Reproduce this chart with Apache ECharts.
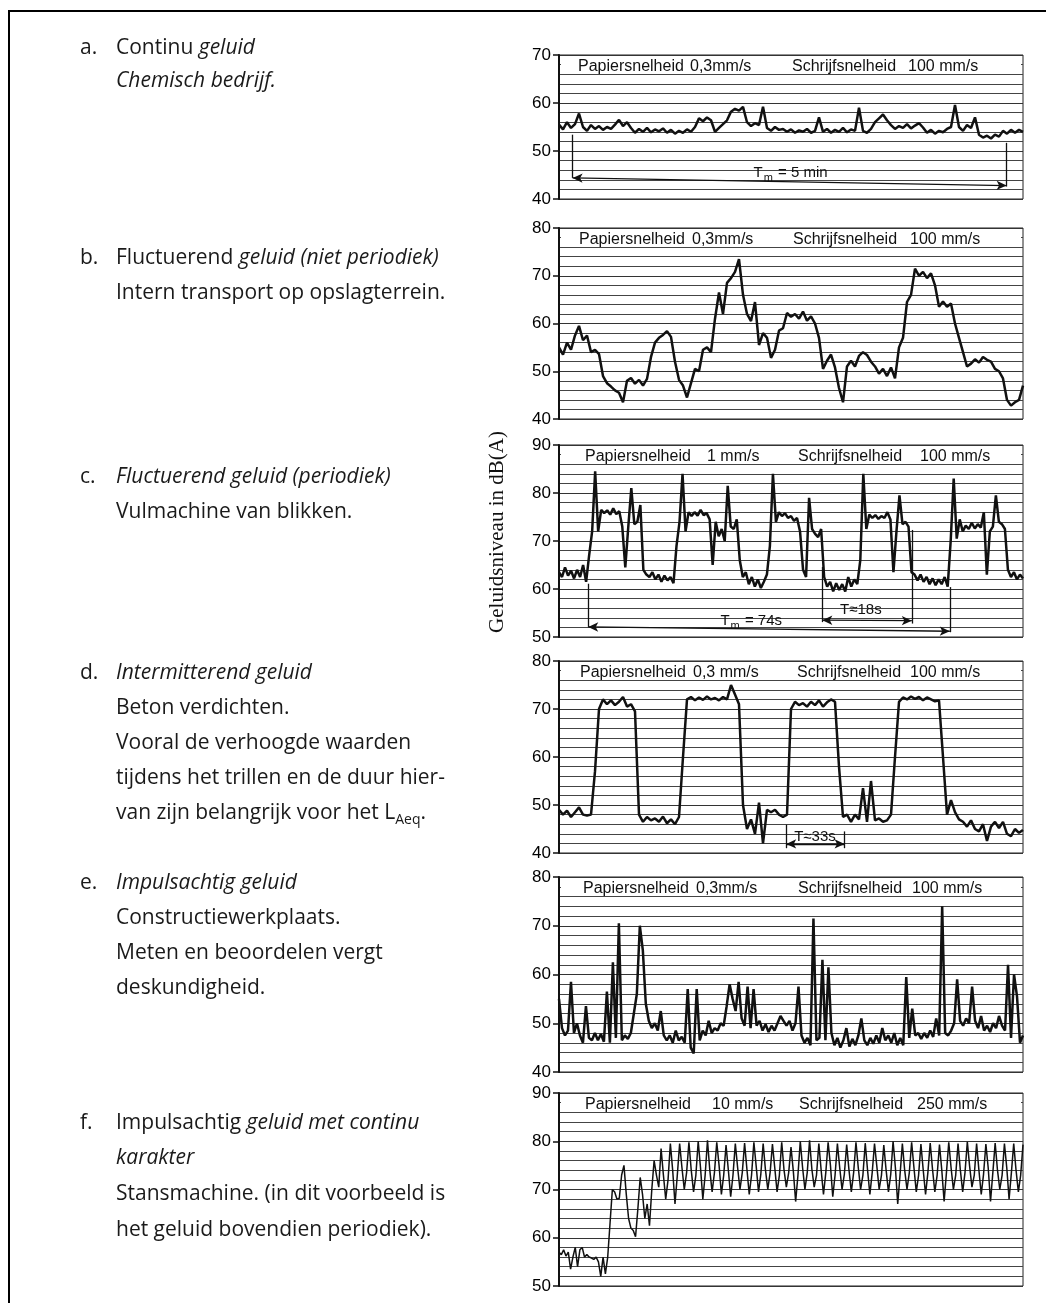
<!DOCTYPE html>
<html>
<head>
<meta charset="utf-8">
<title>Geluidsniveau in dB(A)</title>
<script src="https://cdn.jsdelivr.net/npm/echarts@6/dist/echarts.min.js"></script>
<style>
html, body { margin: 0; padding: 0; background: #fff; }
#main { width: 1046px; height: 1303px; }
</style>
</head>
<body>
<div id="main"></div>
<script>
// registreerstroken, waarden in dB(A), gelijke tijdstappen
var levelA = [55.5, 54.5, 56, 54.8, 55.6, 57.8, 55, 54.2, 55.4, 54.6, 55.2, 54.4, 55, 54.6, 55.5,
  56.5, 55.2, 56, 54.8, 53.8, 54.6, 54, 54.8, 53.9, 54.5, 54.1, 54.7, 53.8, 54.4, 53.6, 54.2, 53.8, 54.5, 54, 55,
  56.8, 56.2, 57, 56.4, 54, 54.8, 55.6, 56.4, 58.2, 58.8, 58.4, 59.2, 56, 55.2, 55.8, 55.4, 59.2,
  54.8, 54.2, 55, 54.4, 54.6, 54, 54.5, 53.8, 54.3, 54, 54.6, 53.8, 54.2, 57,
  54, 54.6, 53.8, 54.4, 54, 54.8, 53.9, 54.5, 54.2, 59, 54.2, 53.8, 54.6, 56, 56.8, 57.6, 56.4,
  55.4, 54.6, 55.2, 54.8, 55.6, 54.7, 55.3, 55.8, 54.9, 53.8, 54.4, 53.6, 54.2, 53.9, 54.6, 55, 59.6,
  55, 54.2, 55.4, 54.8, 57, 53.4, 52.8, 53.2, 52.6, 53.4, 53, 54.2, 53.6, 54.4, 53.8, 54.4, 54];

var levelB = [55, 53.5, 56, 54.5, 57.5, 59.5, 56.5, 57.5, 54, 54.5, 53.6, 49, 47.5, 46.8, 46, 45.5, 43.5,
  48, 48.6, 47.4, 48.2, 47, 48.4, 53, 56, 57, 57.6, 58.4, 57.2, 52, 48.2, 47, 44.5, 47.5, 50.5, 50,
  54.5, 55, 54, 61, 66.5, 62, 68.5, 69.5, 70.8, 73.5, 66, 62, 60.5, 64.5, 55.5, 58, 57, 52.8, 54.5,
  58.5, 59, 62.2, 61.4, 62, 61, 62.5, 60.6, 61.5, 60, 57, 50.5, 52.2, 53.5, 50.8, 46.5, 43.5,
  51, 52.2, 51, 53.2, 54, 53.4, 52, 51, 49.5, 50.5, 49, 50.8, 48.5, 55, 57, 64.5, 66, 71.5, 70,
  70.8, 69.5, 70.5, 68, 63.5, 64.6, 63.5, 64.2, 60, 57, 54, 51, 51.6, 52.5, 51.8, 53, 52.4, 52,
  50.5, 50, 48.5, 44, 42.8, 43.5, 44, 47];

var levelC = [63.5, 62.5, 64.5, 62.8, 63.8, 62.2, 64, 62.5, 65, 61.5, 67, 72, 84.5, 72, 76.5, 75.8,
  76.4, 75.5, 76.8, 75.6, 76.2, 73, 64.5, 73, 81, 73.5, 74, 77.5, 64, 63, 62.5, 63.5, 62, 63, 61.5,
  62.8, 61.8, 62.5, 61.2, 69, 74, 84, 72, 76, 75.2, 76, 75.3, 76.5, 75.4, 75.8, 74.5, 65, 74, 71,
  72.5, 70, 81.5, 73, 72.5, 74.5, 66, 62.5, 63.5, 61, 62.5, 60.5, 62, 60.2, 61.5, 63, 69, 84, 74,
  76, 75.2, 75.8, 74.8, 75.2, 74.2, 74.8, 72, 64, 62.5, 79, 72.5, 71.5, 70.8, 72.5, 62.5, 60.5,
  61.5, 59.5, 61.2, 59.8, 61, 59.5, 62.5, 60.5, 62, 61, 66, 84, 72.5, 75.5, 74.8, 75.4, 74.6,
  75.2, 74.8, 76, 74.5, 63.5, 72, 79.5, 73.5, 74, 73, 63.5, 63, 61.8, 63, 61.5, 62.5, 61, 62.2,
  60.8, 62, 61, 62.5, 60.5, 70, 83, 70.5, 74.5, 72, 73.2, 72.5, 73.8, 72.6, 73.5, 72.8, 76, 63,
  72, 73, 79.5, 74, 73.5, 72.5, 64, 62.5, 63.5, 62, 63, 62.2];

var levelD = [49, 48, 48.8, 47.5, 48.5, 49.5, 48, 47.8, 48, 57, 70, 72, 71, 71.8, 70.8, 71.5, 72.5,
  70.5, 71, 69.5, 48, 46.5, 47.5, 46.8, 47.2, 46.5, 47.6, 46.2, 47, 46, 47.5, 60, 72, 72.5, 71.8,
  72.4, 71.9, 72.6, 72, 72.3, 71.8, 72.5, 72, 75, 73, 71, 50, 45, 47, 44, 50.5, 42, 49, 48.5, 49,
  48, 47.5, 48, 70, 71.5, 70.8, 71.2, 70.5, 71.5, 70.8, 71.8, 70.5, 71.4, 72, 71.5, 58, 47.5, 48,
  46.5, 48, 47, 53.5, 46.5, 55, 46.8, 47.2, 46.5, 46.8, 48, 60, 71.5, 72.4, 72, 72.6, 72.1, 72.5,
  71.8, 72.4, 72, 71.6, 71.8, 60, 48, 51, 48.5, 47, 46.5, 45.5, 46.8, 45, 44.5, 46, 42.5, 45.5,
  46.5, 45.2, 46.5, 44, 43.5, 45, 44.2, 44.8];

var levelE = [55, 49, 47.5, 48.5, 58.5, 48, 50, 47.5, 46, 53.5, 47, 46.5, 48, 46.5, 47.8, 46.2, 56.5,
  46, 62.5, 47, 70.5, 46.5, 47.5, 46.8, 48, 52, 56, 70, 65, 54, 50.5, 49, 50, 48.5, 52.5, 47.5,
  46.5, 47.5, 46, 48.5, 46.5, 47.2, 46, 57, 45, 43.8, 57, 46.5, 48.5, 47.5, 50.5, 48, 49, 48.5,
  50, 49.5, 53.5, 58, 55, 52.5, 58.5, 51, 49.5, 57.5, 49, 57, 49.5, 50.5, 48.5, 49.8, 48.2, 49.5,
  48.5, 50, 51.5, 50.5, 49.5, 50.5, 48.5, 50, 57.5, 47.5, 46, 47, 45.5, 71.5, 46.5, 47, 63, 46.5,
  61.5, 48, 45.5, 47, 45, 46.5, 49, 45.2, 46.8, 45.5, 47.5, 51, 46.5, 45.5, 47, 45.8, 47.5, 46,
  49, 46.5, 47.5, 46, 48, 45.5, 47, 45.5, 59.5, 47, 53, 47.5, 48, 46.8, 48, 47, 48.5, 47.2, 51,
  47.5, 74, 48, 47.5, 48.5, 50, 59, 50.5, 49.5, 51, 50, 57.5, 50.5, 49, 51.5, 48.5, 49.5, 48.2,
  50, 49, 51.5, 49.5, 48.5, 62, 47, 60, 55.5, 46, 47.5];

var levelF = [57, 56.5, 57.5, 56.2, 57, 53.5, 56, 58, 54, 57.5, 58, 56, 56.5, 56, 55.8, 55.5, 56,
  55, 52, 56, 52.5, 56, 63, 70, 69.5, 68, 68.2, 73, 75, 69, 64, 62, 61.5, 60.2, 66, 72.5, 69, 64,
  67, 62.5, 70, 76, 73, 70.5,
  78.5, 73, 68, 72, 79.5, 74, 67, 73, 79.5, 74.5, 70, 73.5, 79.8, 74, 69.5, 73, 80, 74.5, 68, 73,
  80.2, 74, 69.5, 73.5, 79.8, 75, 69, 73, 79.2, 74, 68.5, 73, 79.5, 74.5, 70, 73.5, 79.6, 74.2, 69, 73,
  79.8, 74.8, 69.5, 73.2, 79.5, 74, 70, 73.5, 79.4, 74.5, 69.5, 73, 79.8, 74, 70.5, 73.5,
  78.8, 73.8, 67.5, 73, 80, 74.5, 70, 73.5, 80.2, 74.2, 70.5, 73, 79.5, 74, 69, 73.5,
  79.8, 75, 68.5, 73, 79.5, 74.5, 70, 73.2, 79.3, 74, 69.5, 73.5, 79.8, 74.5, 70, 73,
  79.6, 74, 69, 73.5, 79.5, 74.8, 70, 73, 79.2, 74, 69.5, 73.2, 80, 74.5, 67, 73,
  79.5, 74, 70, 73.5, 79.8, 74.5, 69.5, 73, 79.4, 74, 69, 73.5, 79.6, 74.2, 69.5, 73,
  79.3, 74, 67.5, 73.5, 79.8, 74.5, 70, 73, 79.5, 74, 69.5, 73.5, 79.9, 74.8, 70.5, 73,
  79.5, 74, 69, 73.2, 79.4, 74.5, 67.5, 73.5, 79.6, 74, 70, 73, 79.5, 74.5, 68, 73.5,
  79.5, 74, 69.5, 73, 79.3];

var levels = [levelA, levelB, levelC, levelD, levelE, levelF];
var yMin = [40, 40, 50, 40, 40, 50];
var yMax = [70, 80, 90, 80, 80, 90];
var paperSpeed = ['0,3mm/s', '0,3mm/s', '1 mm/s', '0,3 mm/s', '0,3mm/s', '10 mm/s'];
var penSpeed = ['100 mm/s', '100 mm/s', '100 mm/s', '100 mm/s', '100 mm/s', '250 mm/s'];

// maataanduidingen [x1, y1, x2, y2, pijl] in tijdstap / dB
var spansA = [[3.4, 53.4, 3.4, 44.4, 0], [111.9, 51.7, 111.9, 42.6, 0], [3.4, 44.4, 111.9, 42.8, 1]];
var spansC = [[9.7, 61.1, 9.7, 52.1, 0], [129.7, 60.4, 129.7, 51.0, 0], [9.7, 52.1, 129.7, 51.2, 1],
  [87.4, 64.6, 87.4, 53.1, 0], [117.1, 72.3, 117.1, 52.8, 0], [87.4, 53.5, 117.1, 53.4, 1]];
var spansD = [[56.8, 45.9, 56.8, 41.0, 0], [71.4, 44.5, 71.4, 41.0, 0], [56.8, 41.9, 71.4, 41.9, 1]];
var spanTexts = [
  [[57.9, 45.4, '{t|T}{s|m}{t| = 5 min}']],
  [],
  [[63.8, 53.4, '{t|T}{s|m}{t| = 74s}'], [100.2, 55.7, '{t|T≈18s}']],
  [[64.0, 43.4, '{t|T≈33s}']],
  [], []
];
var spans = [spansA, [], spansC, spansD, [], []];

// opmaak
var panelTop = [55, 228, 445, 661, 877, 1093];
var panelHeight = [144, 191, 192, 192, 195, 193];
var captionX = [[578, 690, 792, 908], [579, 692, 793, 910], [585, 707, 798, 920],
  [580, 693, 797, 910], [583, 696, 798, 912], [585, 712, 799, 917]];
var plotLeft = 559, plotRight = 23;

var sideText = [
  [80, 48, 'a.'], [116, 48, '{n|Continu }{i|geluid}'], [116, 81, '{i|Chemisch bedrijf.}'],
  [80, 258, 'b.'], [116, 258, '{n|Fluctuerend }{i|geluid (niet periodiek)}'], [116, 293, '{n|Intern transport op opslagterrein.}'],
  [80, 477, 'c.'], [116, 477, '{i|Fluctuerend geluid (periodiek)}'], [116, 512, '{n|Vulmachine van blikken.}'],
  [80, 673, 'd.'], [116, 673, '{i|Intermitterend geluid}'], [116, 708, '{n|Beton verdichten.}'],
  [116, 743, '{n|Vooral de verhoogde waarden}'], [116, 778, '{n|tijdens het trillen en de duur hier-}'],
  [116, 813, '{n|van zijn belangrijk voor het L}{s|Aeq}{n|.}'],
  [80, 883, 'e.'], [116, 883, '{i|Impulsachtig geluid}'], [116, 918, '{n|Constructiewerkplaats.}'],
  [116, 953, '{n|Meten en beoordelen vergt}'], [116, 988, '{n|deskundigheid.}'],
  [80, 1123, 'f.'], [116, 1123, '{n|Impulsachtig }{i|geluid met continu}'], [116, 1158, '{i|karakter}'],
  [116, 1194, '{n|Stansmachine. (in dit voorbeeld is}'], [116, 1230, '{n|het geluid bovendien periodiek).}']
];

var sans = '"Open Sans", "Noto Sans", sans-serif';
var chartFont = '"Liberation Sans", Arial, sans-serif';
var ink = '#111';
var textSize = 21;

var myChart = echarts.init(document.getElementById('main'));

var grids = [], xAxes = [], yAxes = [], series = [], graphics = [];

for (var p = 0; p < 6; p++) {
  grids.push({
    left: plotLeft, right: plotRight, top: panelTop[p], height: panelHeight[p],
    show: true, borderColor: '#222', borderWidth: 1, backgroundColor: 'transparent'
  });
  xAxes.push({ type: 'value', gridIndex: p, min: 0, max: levels[p].length - 1, show: false });
  yAxes.push({
    type: 'value', gridIndex: p, min: yMin[p], max: yMax[p], interval: 10,
    axisLine: { show: true, lineStyle: { color: ink, width: 2 } },
    axisTick: { show: true, length: 6, lineStyle: { color: ink, width: 1.5 } },
    axisLabel: { color: '#000', fontSize: 17, fontFamily: chartFont, margin: 8 },
    splitLine: { show: true, lineStyle: { color: '#333', width: 1 } },
    minorTick: { show: false, splitNumber: 5 },
    minorSplitLine: { show: true, lineStyle: { color: '#444', width: 1 } }
  });

  var mlData = spans[p].map(function (s) {
    var sym = s[4] ? 'arrow' : 'none';
    return [{ coord: [s[0], s[1]], symbol: sym }, { coord: [s[2], s[3]], symbol: sym }];
  });
  var mpData = spanTexts[p].map(function (t) {
    return {
      coord: [t[0], t[1]], symbol: 'rect', symbolSize: 0,
      label: {
        show: true, position: 'inside', formatter: t[2],
        rich: {
          t: { fontSize: 15, fontFamily: chartFont, color: ink },
          s: { fontSize: 11, fontFamily: chartFont, color: ink, padding: [10, 1, 0, 1] }
        }
      }
    };
  });

  series.push({
    type: 'line', xAxisIndex: p, yAxisIndex: p,
    data: levels[p].map(function (v, i) { return [i, v]; }),
    symbol: 'none', silent: true, z: 3,
    lineStyle: { color: ink, width: p === 5 ? 1.5 : 2.5 },
    markLine: { silent: true, symbolSize: [7, 10], label: { show: false },
      lineStyle: { color: ink, width: 1.3, type: 'solid' }, data: mlData },
    markPoint: { silent: true, data: mpData }
  });

  // witte strook met de snelheden
  graphics.push({ type: 'rect', z: 1, shape: { x: plotLeft + 2, y: panelTop[p] + 3, width: 460, height: 13 },
    style: { fill: '#fff' } });
  var capTexts = ['Papiersnelheid', paperSpeed[p], 'Schrijfsnelheid', penSpeed[p]];
  for (var k = 0; k < 4; k++) {
    graphics.push({ type: 'text', z: 5, x: captionX[p][k], y: panelTop[p] + 12,
      style: { text: capTexts[k], font: '16px ' + chartFont, fill: ink, verticalAlign: 'middle' } });
  }
}

sideText.forEach(function (t) {
  graphics.push({ type: 'text', z: 5, x: t[0], y: t[1],
    style: {
      text: t[2], font: textSize + 'px ' + sans, fill: '#1a1a1a', verticalAlign: 'middle',
      rich: {
        n: { fontSize: textSize, fontFamily: sans, fill: '#1a1a1a' },
        i: { fontSize: textSize, fontFamily: sans, fontStyle: 'italic', fill: '#1a1a1a' },
        s: { fontSize: 14, fontFamily: sans, fill: '#1a1a1a', padding: [14, 0, 0, 0] }
      }
    } });
});

graphics.push({ type: 'text', z: 5, x: 497, y: 532, rotation: Math.PI / 2,
  style: { text: 'Geluidsniveau in dB(A)', font: '21px "Liberation Serif", serif', fill: ink,
    align: 'center', verticalAlign: 'middle' } });

// kader van de pagina
graphics.push({ type: 'line', z: 5, shape: { x1: 8, y1: 11, x2: 1046, y2: 11 }, style: { stroke: '#000', lineWidth: 2 } });
graphics.push({ type: 'line', z: 5, shape: { x1: 9, y1: 11, x2: 9, y2: 1303 }, style: { stroke: '#000', lineWidth: 2 } });

myChart.setOption({
  animation: false,
  backgroundColor: '#fff',
  grid: grids,
  xAxis: xAxes,
  yAxis: yAxes,
  series: series,
  graphic: graphics
});
</script>
</body>
</html>
